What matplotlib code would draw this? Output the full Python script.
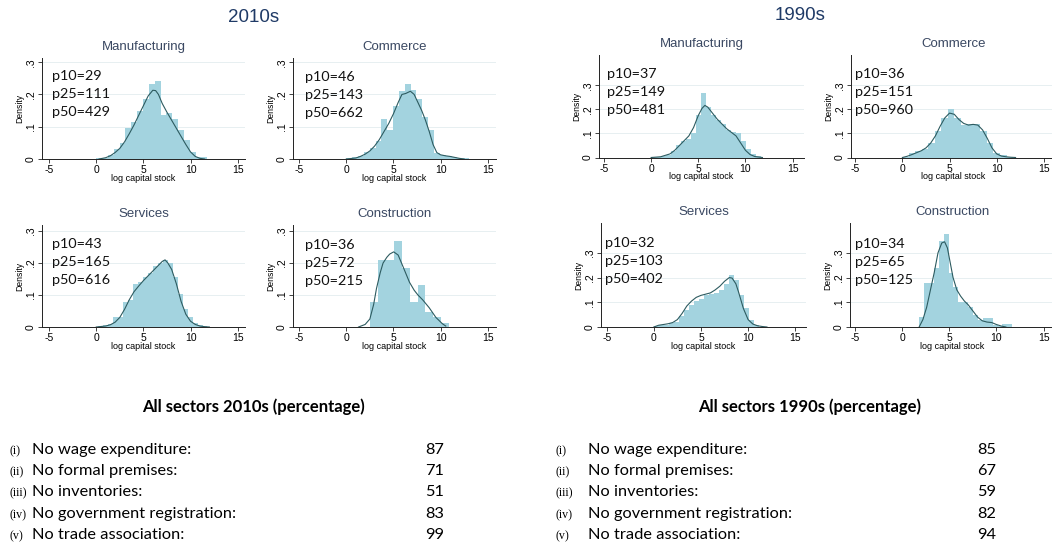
import numpy as np
import matplotlib
matplotlib.use("Agg")
import matplotlib.pyplot as plt

# ---------------- data ----------------
# 2010s Manufacturing
mf10_edges = [0, .62, 1.24, 1.86, 2.48, 3.1, 3.72, 4.34, 4.96, 5.58, 6.2, 6.82, 7.44, 8.06, 8.68, 9.3, 9.92, 10.54, 11.16, 11.78]
mf10_hist = [.004, .004, .012, .03, .05, .095, .115, .15, .185, .232, .242, .135, .142, .125, .09, .058, .022, .006, .005]
mf10_kx = [0.3, 1, 1.5, 2, 2.5, 3, 3.5, 4, 4.5, 5, 5.5, 6, 6.3, 6.6, 7, 7.5, 8, 8.5, 9, 9.5, 10, 10.5, 11, 11.5]
mf10_ky = [0, .004, .01, .02, .033, .053, .078, .105, .135, .165, .195, .213, .212, .2, .172, .145, .12, .095, .07, .045, .022, .008, .002, 0]
# 2010s Commerce
cm10_edges = [0, .62, 1.24, 1.86, 2.48, 3.1, 3.72, 4.34, 4.96, 5.58, 6.2, 6.82, 7.44, 8.06, 8.68, 9.3, 9.92, 10.54, 11.16, 11.78, 12.4, 13.02]
cm10_hist = [.003, .005, .01, .022, .035, .055, .125, .09, .165, .21, .232, .215, .185, .13, .09, .02, .012, .01, .006, .004, .002]
cm10_kx = [0, 1, 1.5, 2, 2.5, 3, 3.5, 4, 4.5, 5, 5.5, 5.9, 6.3, 6.8, 7.2, 7.6, 8, 8.4, 8.8, 9.2, 9.6, 10, 10.5, 11, 11.5, 12, 12.5]
cm10_ky = [0, .003, .008, .015, .025, .04, .06, .085, .11, .14, .175, .2, .203, .21, .2, .175, .15, .12, .085, .045, .02, .013, .01, .008, .005, .002, 0]
# 2010s Services
sv10_edges = [0.2, .75, 1.3, 1.82, 2.35, 2.88, 3.4, 3.93, 4.46, 4.98, 5.5, 6.03, 6.56, 7.09, 7.61, 8.14, 8.67, 9.19, 9.72, 10.25, 10.78, 11.3, 11.8]
sv10_hist = [.003, .005, .01, .03, .03, .078, .083, .135, .14, .156, .17, .19, .2, .21, .2, .156, .104, .057, .03, .012, .006, .003]
sv10_kx = [0, 1, 1.5, 2, 2.5, 3, 3.5, 4, 4.5, 5, 5.5, 6, 6.5, 7, 7.3, 7.6, 8, 8.5, 9, 9.5, 10, 10.5, 11, 11.5, 12]
sv10_ky = [0, .003, .007, .015, .03, .055, .085, .11, .128, .145, .16, .175, .19, .205, .21, .2, .18, .135, .08, .04, .018, .008, .003, .001, 0]
# 2010s Construction
cn10_edges = [2.52, 3.39, 4.27, 5.03, 5.87, 6.71, 7.59, 8.39, 9.23, 10.03, 10.87]
cn10_hist = [.078, .208, .208, .27, .185, .078, .13, .047, .03, .012]
cn10_kx = [1.3, 2.0, 2.5, 2.9, 3.2, 3.6, 3.9, 4.3, 4.6, 5.03, 5.5, 6.0, 6.7, 7.2, 7.6, 8.1, 8.8, 9.5, 10.2, 10.55]
cn10_ky = [0, .008, .025, .07, .12, .17, .2, .218, .228, .235, .225, .19, .14, .115, .1, .085, .06, .03, .01, .003]
# 1990s Manufacturing
mf90_edges = [0, .53, 1.06, 1.59, 2.12, 2.65, 3.18, 3.71, 4.24, 4.77, 5.3, 5.83, 6.36, 6.89, 7.42, 7.95, 8.48, 9.01, 9.54, 10.07, 10.6, 11.13, 11.66]
mf90_hist = [.002, .003, .006, .012, .025, .05, .07, .075, .1, .175, .267, .21, .175, .155, .14, .115, .105, .103, .07, .035, .015, .005]
mf90_kx = [0, 1, 2, 2.5, 3, 3.5, 4, 4.5, 5, 5.4, 5.7, 6.0, 6.5, 7, 7.5, 8, 8.5, 9, 9.5, 10, 10.5, 11, 11.8]
mf90_ky = [0, .003, .015, .03, .05, .07, .09, .125, .175, .205, .217, .21, .185, .16, .14, .12, .105, .09, .06, .03, .012, .004, 0]
# 1990s Commerce
cm90_edges = [0, .69, 1.38, 2.07, 2.76, 3.45, 4.14, 4.83, 5.52, 6.21, 6.9, 7.59, 8.28, 8.97, 9.66, 10.35, 11.04, 11.73]
cm90_hist = [.004, .018, .025, .035, .06, .11, .165, .2, .165, .135, .14, .14, .11, .06, .02, .01, .004]
cm90_kx = [0, .5, 1, 1.5, 2, 2.5, 3, 3.5, 4, 4.5, 5, 5.5, 6, 6.5, 7, 7.5, 8, 8.5, 9, 9.5, 10, 10.5, 11, 11.5, 12]
cm90_ky = [0, .005, .012, .02, .028, .04, .06, .09, .13, .165, .185, .18, .158, .142, .135, .138, .135, .115, .08, .04, .015, .006, .003, .001, 0]
# 1990s Services
sv90_edges = [0, .53, 1.06, 1.59, 2.12, 2.65, 3.18, 3.71, 4.24, 4.77, 5.3, 5.83, 6.36, 6.89, 7.42, 7.95, 8.48, 9.01, 9.54, 10.07, 10.6, 11.13]
sv90_hist = [.005, .008, .01, .015, .022, .045, .07, .09, .105, .115, .13, .132, .138, .15, .175, .212, .19, .13, .075, .03, .01]
sv90_kx = [0, .5, 1, 1.5, 2, 2.5, 3, 3.5, 4, 4.5, 5, 5.5, 6, 6.5, 7, 7.5, 8, 8.3, 8.7, 9, 9.5, 10, 10.5, 11, 11.5, 12]
sv90_ky = [0, .007, .01, .013, .018, .03, .055, .085, .105, .12, .128, .133, .138, .15, .165, .185, .2, .198, .175, .14, .075, .03, .012, .005, .002, 0]
# 1990s Construction
cn90_edges = [1.8, 2.32, 2.84, 3.36, 3.88, 4.4, 4.92, 5.44, 5.96, 6.48, 7.0, 7.52, 8.04, 8.56, 9.08, 9.6, 10.12, 10.64, 11.16, 11.68]
cn90_hist = [.04, .18, .18, .24, .35, .375, .22, .16, .1, .1, .08, .05, .03, .035, .035, .008, .004, .012, .012]
cn90_kx = [1.8, 2.2, 2.6, 3.0, 3.4, 3.8, 4.2, 4.5, 4.8, 5.1, 5.4, 5.8, 6.2, 6.6, 7.0, 7.5, 8.0, 8.5, 9.0, 9.5, 10.0, 10.5, 11.0]
cn90_ky = [0, .03, .08, .15, .22, .3, .34, .345, .32, .26, .2, .15, .125, .105, .09, .065, .04, .025, .02, .018, .01, .004, 0]

sectors = ["Manufacturing", "Commerce", "Services", "Construction"]
pct_2010s = [("p10", [29, 46, 43, 36]), ("p25", [111, 143, 165, 72]), ("p50", [429, 662, 616, 215])]
pct_1990s = [("p10", [37, 36, 32, 34]), ("p25", [149, 151, 103, 65]), ("p50", [481, 960, 402, 125])]

x_ticks = [-5, 0, 5, 10, 15]
y_ticks = [0, .1, .2, .3]
y_ticklabels = ["0", ".1", ".2", ".3"]

row_numerals = ["(i)", "(ii)", "(iii)", "(iv)", "(v)"]
row_labels = ["No wage expenditure:", "No formal premises:", "No inventories:",
              "No government registration:", "No trade association:"]
share_2010s = [87, 71, 51, 83, 99]
share_1990s = [85, 67, 59, 82, 94]

# ---------------- style ----------------
W, H = 1052, 546
BAR = "#a3d3df"
KDE = "#2d5b60"
GRID = "#e7eff1"
TITLE_C = "#1f3a66"
SUB_C = "#3a4862"
SANS = ["Liberation Sans", "DejaVu Sans"]
CAL = ["Lato", "DejaVu Sans"]

fig = plt.figure(figsize=(W / 100, H / 100), dpi=100)
fig.patch.set_facecolor("white")


def px(x, y):
    return x / W, 1 - y / H


def panel(l, t, r, b, xlo, ylim_top, edges, hist, kx, ky, title, pcts, px_text, py_text):
    ax = fig.add_axes([l / W, 1 - b / H, (r - l) / W, (b - t) / H])
    ax.stairs(hist, edges, fill=True, color=BAR, lw=0, zorder=2)
    ax.plot(kx, ky, color=KDE, lw=0.8, zorder=3)
    ax.set_xlim(xlo, xlo + (r - l) / 9.43)
    ax.set_ylim(0, ylim_top)
    ax.set_xticks(x_ticks)
    ax.set_xticklabels([str(v) for v in x_ticks], fontsize=7.5, family=SANS)
    ax.set_yticks(y_ticks)
    ax.set_yticklabels(y_ticklabels, fontsize=7.5, family=SANS, rotation=90, va="center")
    for yv in y_ticks[1:]:
        ax.axhline(yv, color=GRID, lw=0.7, zorder=1)
    for s in ["top", "right"]:
        ax.spines[s].set_visible(False)
    for s in ["left", "bottom"]:
        ax.spines[s].set_color("#222222")
        ax.spines[s].set_linewidth(0.7)
    ax.tick_params(length=3, width=0.6, pad=1.5, color="#222222")
    ax.set_xlabel("log capital stock", fontsize=6.5, family=SANS, labelpad=-1)
    ax.set_ylabel("Density", fontsize=6.2, family=SANS, labelpad=1)
    fig.text(*px((l + r) / 2, t - 11), title, fontsize=9.5, family=SANS, color=SUB_C,
             ha="center", va="center")
    for i, (name, vals) in enumerate(pcts):
        fig.text(*px(px_text, py_text + 18 * i), f"{name}={vals}", fontsize=10.4,
                 family=CAL, color="#111111", ha="left", va="center")
    return ax


panels_2010s = [
    (mf10_edges, mf10_hist, mf10_kx, mf10_ky),
    (cm10_edges, cm10_hist, cm10_kx, cm10_ky),
    (sv10_edges, sv10_hist, sv10_kx, sv10_ky),
    (cn10_edges, cn10_hist, cn10_kx, cn10_ky),
]
panels_1990s = [
    (mf90_edges, mf90_hist, mf90_kx, mf90_ky),
    (cm90_edges, cm90_hist, cm90_kx, cm90_ky),
    (sv90_edges, sv90_hist, sv90_kx, sv90_ky),
    (cn90_edges, cn90_hist, cn90_kx, cn90_ky),
]

# layout boxes (pixels): left, top, right, bottom, xlim-left, ylim-top, text x, text y
boxes_2010s = [(42, 58, 245, 159, -5.75, .313, 52, 76),
               (293, 58, 496, 159, -5.65, .313, 305, 77),
               (42, 225, 245, 327, -5.75, .319, 52, 244),
               (293, 225, 496, 327, -5.65, .319, 305, 245)]
boxes_1990s = [(599, 55, 804, 157.5, -5.53, .427, 607, 74),
               (851, 55, 1056, 157.5, -5.45, .427, 855, 74),
               (601, 223, 806, 327, -5.6, .421, 605, 243),
               (850, 223, 1055, 327, -5.53, .421, 855, 244)]

for k in range(4):
    l, t, r, b, xlo, yt, tx, ty = boxes_2010s[k]
    e, h, kx, ky = panels_2010s[k]
    panel(l, t, r, b, xlo, yt, e, h, kx, ky, sectors[k],
          [(n, v[k]) for n, v in pct_2010s], tx, ty)
    l, t, r, b, xlo, yt, tx, ty = boxes_1990s[k]
    e, h, kx, ky = panels_1990s[k]
    panel(l, t, r, b, xlo, yt, e, h, kx, ky, sectors[k],
          [(n, v[k]) for n, v in pct_1990s], tx, ty)

fig.text(*px(254, 18), "2010s", fontsize=13.5, family=SANS, color=TITLE_C, ha="center", va="center")
fig.text(*px(800, 16), "1990s", fontsize=13.5, family=SANS, color=TITLE_C, ha="center", va="center")

# ---------------- tables ----------------
row_y = [450, 471, 492, 514, 535]


def table(title, cx, x_num, x_text, x_val, values):
    fig.text(*px(cx, 407), title, fontsize=12, family=CAL, fontweight="bold",
             ha="center", va="center")
    for i in range(5):
        fig.text(*px(x_num, row_y[i] + 1), row_numerals[i], fontsize=8.6,
                 family=["Liberation Serif", "DejaVu Serif"], ha="left", va="center")
        fig.text(*px(x_text, row_y[i]), row_labels[i], fontsize=11.8, family=CAL,
                 ha="left", va="center")
        fig.text(*px(x_val, row_y[i]), str(values[i]), fontsize=11.8, family=CAL,
                 ha="center", va="center")


table("All sectors 2010s (percentage)", 253, 9, 32, 435, share_2010s)
table("All sectors 1990s (percentage)", 810, 556, 588, 987, share_1990s)

fig.savefig("out.png", dpi=100, facecolor="white")
